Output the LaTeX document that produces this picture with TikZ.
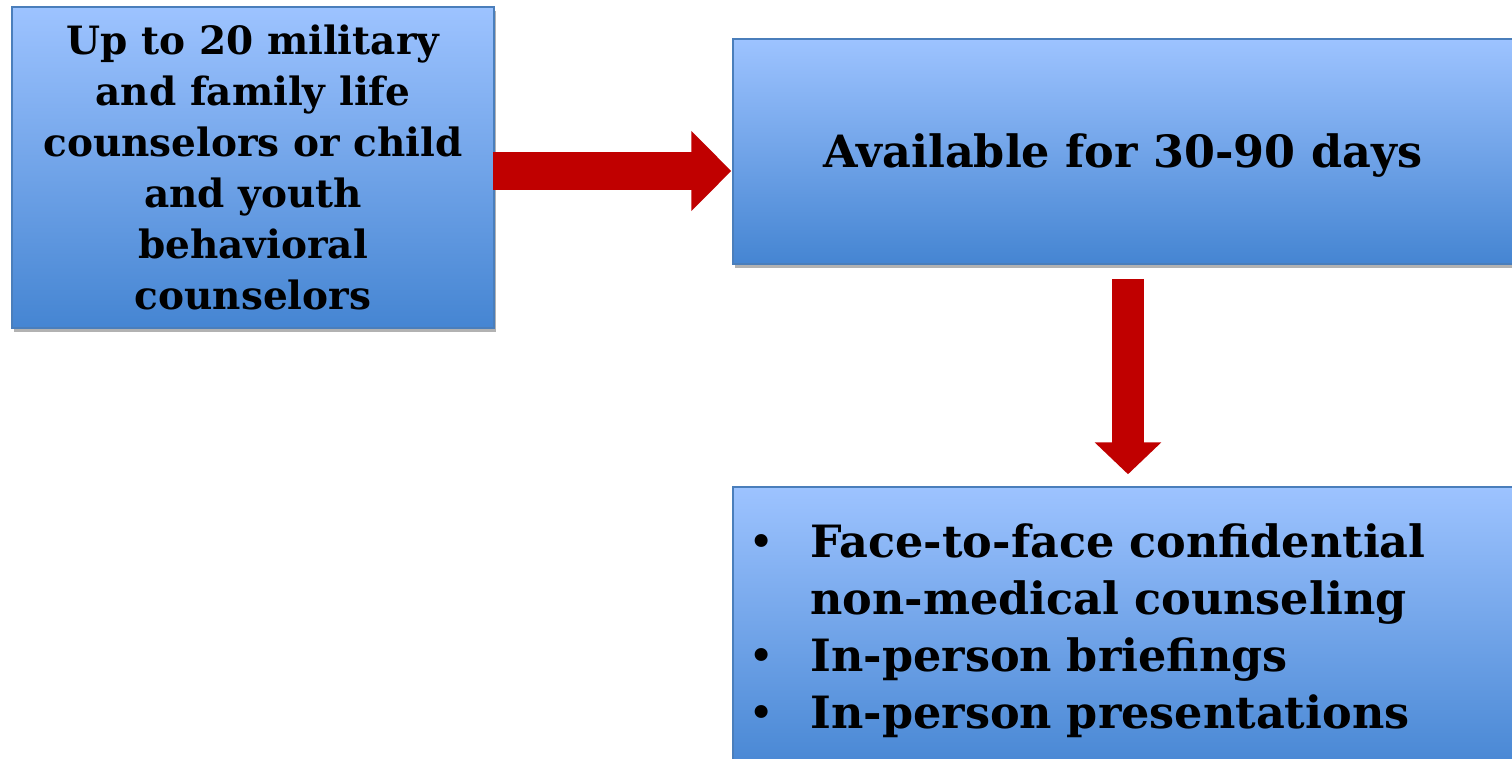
\documentclass[tikz,border=0pt]{standalone}
\usepackage{fontspec}
\setmainfont{DejaVu Serif}
\usetikzlibrary{arrows.meta,shadows,calc}
\definecolor{boxtop}{HTML}{9DC3FF}
\definecolor{boxbot}{HTML}{4585D2}
\definecolor{boxline}{HTML}{4A7EBB}
\definecolor{arrowred}{HTML}{C00000}
\tikzset{
  bluebox/.style={draw=boxline, line width=1.5pt, top color=boxtop, bottom color=boxbot,
    drop shadow={shadow xshift=2pt, shadow yshift=-4pt, opacity=0.3, fill=black},
    inner sep=0pt, font=\bfseries},
}
\begin{document}
\begin{tikzpicture}[x=1pt,y=-1pt]
\useasboundingbox (0,0) rectangle (1512,758);
\fill[white] (0,0) rectangle (1512,758);
\node[bluebox, minimum width=482pt, minimum height=321pt, align=center,
  font=\bfseries\fontsize{39}{51}\selectfont] (b1) at (253,167.5)
  {Up to 20 military\\and family life\\counselors or child\\and youth\\behavioral\\counselors};
\node[bluebox, minimum width=790pt, minimum height=225pt,
  font=\bfseries\fontsize{44.5}{57}\selectfont] (b2) at (1128,151.5)
  {\hspace*{-10pt}\raisebox{-4pt}[\height][\depth]{Available for 30-90 days}};
\node[bluebox, minimum width=790pt, minimum height=290pt, align=left, text width=763pt,
  font=\bfseries\fontsize{44.5}{57}\selectfont] (b3) at (1128,632)
  {\begin{tabular}{@{\hspace{2pt}}p{62pt}@{}l@{}}
   {\mdseries\textbullet} & Face-to-face confidential\\
   & non-medical counseling\\
   {\mdseries\textbullet} & In-person briefings\\
   {\mdseries\textbullet} & In-person presentations
   \end{tabular}};
\coordinate (a1s) at ($(b1.east)+(-2pt,-3.5pt)$);
\coordinate (a1e) at ($(b2.west |- a1s)+(-1pt,0)$);
\draw[line width=38pt, arrowred, -{Triangle[width=78pt,length=40pt]}] (a1s) -- (a1e);
\coordinate (a2s) at ($(b2.south)+(0,-14pt)$);
\coordinate (a2e) at ($(b3.north)+(0,12pt)$);
\draw[line width=32pt, arrowred, -{Triangle[width=65pt,length=32pt]}] (a2s) -- (a2e);
\end{tikzpicture}
\end{document}
